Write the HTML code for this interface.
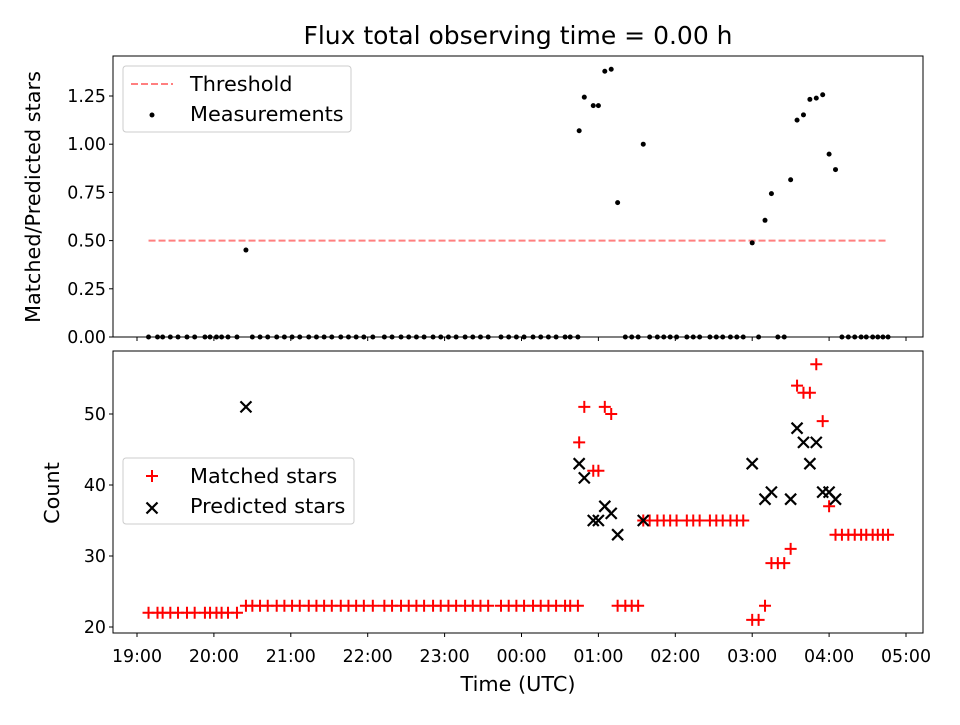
<!DOCTYPE html>
<html><head><meta charset="utf-8"><style>
body{margin:0;background:#fff}
svg text{font-family:"DejaVu Sans","Liberation Sans",sans-serif;fill:#000}
</style></head><body>
<svg id="chart" width="960" height="720" xmlns="http://www.w3.org/2000/svg">
<rect width="960" height="720" fill="#fff"/>
<text x="518" y="44" font-size="25" text-anchor="middle">Flux total observing time = 0.00 h</text>
<g id="topAxes"></g><g id="botAxes"></g>
</svg>
<script>
// minutes since 19:00 UTC
const times=[9,16,20,26,32,39,45,53,57,62,66,71,78,85,
90,96,102,109,115,121,127,134,140,146,152,159,165,171,177,184,193,199,206,212,218,224,231,237,243,249,256,262,268,274,284,290,296,302,309,315,321,327,334,338,344,
345,349,356,360,365,370,375,381,386,391,395,
400,406,411,416,421,429,434,439,447,452,457,463,468,473,
480,485,490,495,500,505,510,515,520,525,530,535,540,545,
550,555,560,565,569,574,578,582,586];
const matched=[22,22,22,22,22,22,22,22,22,22,22,22,22,23,
23,23,23,23,23,23,23,23,23,23,23,23,23,23,23,23,23,23,23,23,23,23,23,23,23,23,23,23,23,23,23,23,23,23,23,23,23,23,23,23,23,
46,51,42,42,51,50,23,23,23,23,35,
35,35,35,35,35,35,35,35,35,35,35,35,35,35,
21,21,23,29,29,29,31,54,53,53,57,49,37,33,
33,33,33,33,33,33,33,33,33];
const predicted=[null,null,null,null,null,null,null,null,null,null,null,null,null,51,
null,null,null,null,null,null,null,null,null,null,null,null,null,null,null,null,null,null,null,null,null,null,null,null,null,null,null,null,null,null,null,null,null,null,null,null,null,null,null,null,null,
43,41,35,35,37,36,33,null,null,null,35,
null,null,null,null,null,null,null,null,null,null,null,null,null,null,
43,null,38,39,null,null,38,48,46,43,46,39,39,38,
null,null,null,null,null,null,null,null,null];
const threshold=0.5;
const xTickLabels=["19:00","20:00","21:00","22:00","23:00","00:00","01:00","02:00","03:00","04:00","05:00"];
const topTicks=[0,0.25,0.5,0.75,1.0,1.25];
const botTicks=[20,30,40,50];

const NS="http://www.w3.org/2000/svg";
const L=113,R=923;
const FS=17.4, FL=20.8;
const X=m=>137+m*76.9/60;
const Y1=v=>337-v*192.8;
const Y2=v=>627-(v-20)*7.1;
function mk(p,tag,a,txt){const e=document.createElementNS(NS,tag);for(const k in a)e.setAttribute(k,a[k]);if(txt!=null)e.textContent=txt;p.appendChild(e);return e;}
const topG=document.getElementById('topAxes'),botG=document.getElementById('botAxes');

const ratio=times.map((t,i)=>predicted[i]?matched[i]/predicted[i]:0);
let th=mk(topG,'line',{x1:X(times[0]),x2:X(times[times.length-1]),y1:Y1(threshold),y2:Y1(threshold),stroke:'#ff7f7f','stroke-width':2,'stroke-dasharray':'7,3'});


times.forEach((t,i)=>{
  const c=mk(topG,'circle',{cx:X(t),cy:Y1(ratio[i]),r:2.5,fill:'#000'});
  
  
});
times.forEach((t,i)=>{
  const x=X(t),y=Y2(matched[i]);
  const g=mk(botG,'path',{d:`M${x-6},${y}H${x+6}M${x},${y-6}V${y+6}`,stroke:'#ff0000','stroke-width':2});
  
  
});
times.forEach((t,i)=>{
  if(predicted[i]==null)return;
  const x=X(t),y=Y2(predicted[i]);
  const g=mk(botG,'path',{d:`M${x-5.5},${y-5.5}L${x+5.5},${y+5.5}M${x-5.5},${y+5.5}L${x+5.5},${y-5.5}`,stroke:'#000','stroke-width':2.2});
  
  
});
let f1=mk(topG,'rect',{x:L,y:56,width:R-L,height:281,fill:'none',stroke:'#000','stroke-width':1});


let f2=mk(botG,'rect',{x:L,y:351,width:R-L,height:282,fill:'none',stroke:'#000','stroke-width':1});


xTickLabels.forEach((lab,i)=>{
  const x=X(i*60);
  mk(topG,'line',{x1:x,x2:x,y1:337,y2:341,stroke:'#000'});
  mk(botG,'line',{x1:x,x2:x,y1:633,y2:637,stroke:'#000'});
  const t=mk(botG,'text',{x:x,y:662,'font-size':FS,'text-anchor':'middle'},lab);
  
  
});
topTicks.forEach(v=>{
  const y=Y1(v);
  mk(topG,'line',{x1:L-4,x2:L,y1:y,y2:y,stroke:'#000'});
  const t=mk(topG,'text',{x:L-7,y:y+6,'font-size':FS,'text-anchor':'end'},v.toFixed(2));
  
  
});
botTicks.forEach(v=>{
  const y=Y2(v);
  mk(botG,'line',{x1:L-4,x2:L,y1:y,y2:y,stroke:'#000'});
  const t=mk(botG,'text',{x:L-7,y:y+6,'font-size':FS,'text-anchor':'end'},String(v));
  
  
});
let a=mk(botG,'text',{x:518,y:691,'font-size':FL,'text-anchor':'middle'},'Time (UTC)');


a=mk(topG,'text',{x:0,y:0,'font-size':FL,'text-anchor':'middle',transform:'translate(40,197) rotate(-90)'},'Matched/Predicted stars');


a=mk(botG,'text',{x:0,y:0,'font-size':FL,'text-anchor':'middle',transform:'translate(59,493) rotate(-90)'},'Count');


let lg=mk(topG,'g',{});


mk(lg,'rect',{x:123,y:66,width:228,height:66,rx:3,fill:'#fff','fill-opacity':0.8,stroke:'#ccc'});
mk(lg,'line',{x1:131,x2:173,y1:84,y2:84,stroke:'#ff7f7f','stroke-width':2,'stroke-dasharray':'7,3'});
mk(lg,'text',{x:190,y:91,'font-size':FL},'Threshold');
mk(lg,'circle',{cx:152,cy:115,r:2.5,fill:'#000'});
mk(lg,'text',{x:190,y:121,'font-size':FL},'Measurements');
lg=mk(botG,'g',{});


mk(lg,'rect',{x:123,y:458,width:231,height:66,rx:3,fill:'#fff','fill-opacity':0.8,stroke:'#ccc'});
mk(lg,'path',{d:'M146,476H158M152,470V482',stroke:'#ff0000','stroke-width':2});
mk(lg,'text',{x:190,y:483,'font-size':FL},'Matched stars');
mk(lg,'path',{d:'M146.5,502.5L157.5,513.5M146.5,513.5L157.5,502.5',stroke:'#000','stroke-width':2.2});
mk(lg,'text',{x:190,y:513,'font-size':FL},'Predicted stars');
</script>
</body></html>
